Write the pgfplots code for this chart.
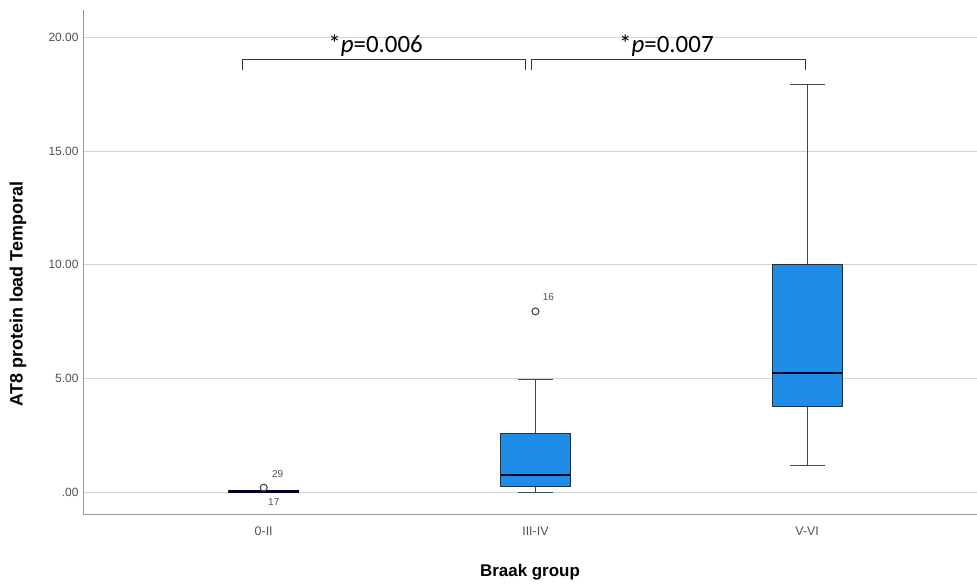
\documentclass[border=0pt]{standalone}
\usepackage{fontspec}
\setmainfont{Liberation Sans}
\newfontfamily\calibri{Carlito}
\usepackage{pgfplots}
\usepgfplotslibrary{statistics}
\pgfplotsset{compat=1.18}
\definecolor{BoxBlue}{HTML}{1E8BE6}
\definecolor{BoxEdge}{HTML}{24303C}
\definecolor{AxisGray}{HTML}{9A9A9A}
\definecolor{GridGray}{HTML}{D4D4D4}
\definecolor{TickGray}{HTML}{505050}
\definecolor{WhiskGray}{HTML}{474747}

\begin{document}
\begin{tikzpicture}[x=1bp,y=1bp]
\useasboundingbox (0,0) rectangle (977,585);
\begin{axis}[
  at={(83bp,70bp)}, anchor=south west,
  width=894bp, height=505bp, scale only axis,
  xmin=-0.665, xmax=2.625,
  ymin=-1.0, ymax=21.2,
  axis x line*=bottom, axis y line*=left,
  axis line style={draw=AxisGray, line width=1pt},
  major tick length=0pt,
  xtick={0,1,2},
  xticklabels={0-II,III-IV,V-VI},
  ytick={0,5,10,15,20},
  yticklabels={.00,5.00,10.00,15.00,20.00},
  ymajorgrids,
  grid style={GridGray, line width=0.9pt},
  tick label style={font=\fontsize{12}{14}\selectfont, text=TickGray},
  xticklabel style={yshift=-8bp, font=\fontsize{12.5}{14}\selectfont},
  yticklabel style={xshift=-1bp},
  xlabel={\bfseries Braak group},
  ylabel={\bfseries AT8 protein load Temporal},
  label style={font=\fontsize{17}{20}\selectfont},
  xlabel style={at={(axis description cs:0.5,-0.113)}, anchor=center},
  ylabel style={at={(axis description cs:-0.0727,0.4376)}, anchor=center, font=\fontsize{18}{20}\selectfont},
  boxplot/draw direction=y,
  boxplot/box extend=0.257,
  boxplot/whisker extend=0.128,
  boxplot/every box/.style={draw=BoxEdge, fill=BoxBlue, line width=1.1pt},
  boxplot/every median/.style={draw=black!85!blue, line width=2.4pt},
  boxplot/every whisker/.style={draw=WhiskGray, line width=1.3pt},
  clip=false,
]
% 0-II
\addplot[boxplot prepared={draw position=0,
  lower whisker=0.0, lower quartile=0.01, median=0.03,
  upper quartile=0.06, upper whisker=0.08}] coordinates {};
% III-IV
\addplot[boxplot prepared={draw position=1,
  lower whisker=0.0, lower quartile=0.26, median=0.75,
  upper quartile=2.6, upper whisker=4.97}] coordinates {};
% V-VI
\addplot[boxplot prepared={draw position=2,
  lower whisker=1.19, lower quartile=3.78, median=5.23,
  upper quartile=10.02, upper whisker=17.93}] coordinates {};

% outliers
\addplot[only marks, mark=o, mark size=3.5bp, mark options={draw=WhiskGray, line width=1.1pt}]
  coordinates {(0,0.2) (1,7.95)};
\node[font=\fontsize{10}{12}\selectfont, text=TickGray] at (axis cs:0.051,0.79) {29};
\node[font=\fontsize{10}{12}\selectfont, text=TickGray] at (axis cs:0.037,-0.44) {17};
\node[font=\fontsize{10}{12}\selectfont, text=TickGray] at (axis cs:1.048,8.57) {16};

% significance brackets
\addplot[black!80, line width=1.3pt, sharp plot, mark=none]
  coordinates {(-0.077,18.55) (-0.077,19.03) (0.963,19.03) (0.963,18.55)};
\addplot[black!80, line width=1.3pt, sharp plot, mark=none]
  coordinates {(0.985,18.55) (0.985,19.03) (1.993,19.03) (1.993,18.55)};
\node[anchor=base, font=\calibri\fontsize{25}{28}\selectfont, inner sep=0pt]
  at (axis cs:0.412,19.35) {*\textit{p}=0.006};
\node[anchor=base, font=\calibri\fontsize{25}{28}\selectfont, inner sep=0pt]
  at (axis cs:1.482,19.35) {*\textit{p}=0.007};
\end{axis}
\end{tikzpicture}
\end{document}
